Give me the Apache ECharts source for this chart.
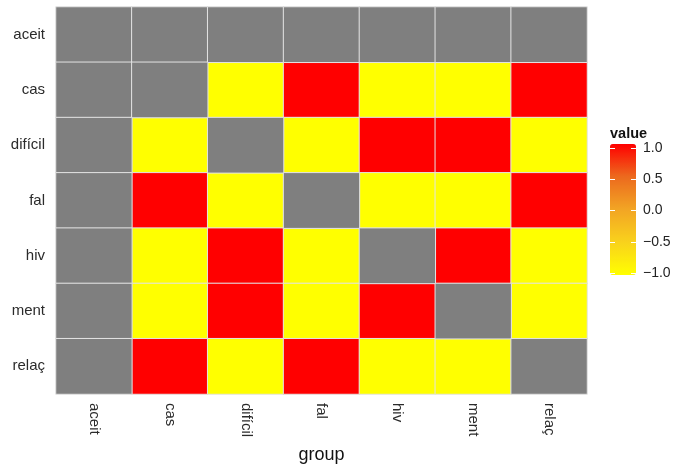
<!DOCTYPE html>
<html>
<head>
<meta charset="utf-8">
<script src="https://cdn.jsdelivr.net/npm/echarts@6/dist/echarts.min.js"></script>
<style>html,body{margin:0;padding:0;background:#fff;}#c{width:688px;height:465px;}</style>
</head>
<body>
<div id="c"></div>
<script>
// categories
const groups = ['aceit', 'cas', 'difícil', 'fal', 'hiv', 'ment', 'relaç'];
// values by row (top to bottom), columns left to right; null = NA (grey)
const rowAceit  = [null, null, null, null, null, null, null];
const rowCas    = [null, null, -1, 1, -1, -1, 1];
const rowDificil= [null, -1, null, -1, 1, 1, -1];
const rowFal    = [null, 1, -1, null, -1, -1, 1];
const rowHiv    = [null, -1, 1, -1, null, 1, -1];
const rowMent   = [null, -1, 1, -1, 1, null, -1];
const rowRelac  = [null, 1, -1, 1, -1, -1, null];
const rows = [rowAceit, rowCas, rowDificil, rowFal, rowHiv, rowMent, rowRelac];
// legend ticks
const legendTicks = [-1, -0.5, 0, 0.5, 1];

const valData = [], naData = [];
rows.forEach((r, yi) => r.forEach((v, xi) => {
  if (v === null) naData.push([xi, yi, 0]); else valData.push([xi, yi, v]);
}));

const chart = echarts.init(document.getElementById('c'));
const font = 'Liberation Sans, Arial, Helvetica, sans-serif';
const fmt = v => (v < 0 ? '\u2212' : '') + Math.abs(v).toFixed(1);
const tickAxis = (extra) => Object.assign({
  type: 'value', gridIndex: 1, min: legendTicks[0], max: legendTicks[legendTicks.length - 1],
  interval: 0.5, z: 10,
  axisLine: { show: false }, splitLine: { show: false },
  axisTick: { show: true, inside: true, length: 5, lineStyle: { color: '#ffffff', width: 1 } },
  axisLabel: { show: false }
}, extra);
chart.setOption({
  animation: false,
  textStyle: { fontFamily: font },
  grid: [
    { left: 56, top: 7, width: 531, height: 387, outerBoundsMode: 'none', containLabel: false },
    { left: 610, top: 148, width: 26, height: 125, outerBoundsMode: 'none', containLabel: false }
  ],
  xAxis: [
    { type: 'category', data: groups, gridIndex: 0,
      axisLine: { show: false }, axisTick: { show: false }, splitLine: { show: false },
      axisLabel: { rotate: -90, margin: 9, fontSize: 15, color: '#2b2b2b', fontFamily: font },
      name: 'group', nameLocation: 'middle', nameGap: 52,
      nameTextStyle: { fontSize: 18, color: '#111', fontFamily: font } },
    { type: 'value', gridIndex: 1, show: false, min: 0, max: 1 }
  ],
  yAxis: [
    { type: 'category', data: groups, gridIndex: 0, inverse: true,
      axisLine: { show: false }, axisTick: { show: false }, splitLine: { show: false },
      axisLabel: { margin: 11, fontSize: 15, color: '#2b2b2b', fontFamily: font } },
    tickAxis({ position: 'right', axisTick: { show: false },
      axisLabel: { show: true, margin: 7, fontSize: 14, color: '#222', formatter: fmt, fontFamily: font } }),
    tickAxis({ position: 'left',
      name: 'value', nameLocation: 'end', nameGap: 14,
      nameTextStyle: { fontSize: 14.5, fontWeight: 'bold', color: '#111', align: 'left', verticalAlign: 'middle', fontFamily: font } }),
    tickAxis({ position: 'left', offset: -26,
      axisTick: { show: true, inside: false, length: 5, lineStyle: { color: '#ffffff', width: 1 } } })
  ],
  visualMap: {
    type: 'continuous', seriesIndex: 0, min: -1, max: 1, calculable: false,
    left: 610, top: 144, itemWidth: 26, itemHeight: 131, padding: 0,
    text: null, showLabel: false,
    inRange: { color: ['#FFFF00', '#F9D21C', '#F2A524', '#EC6A1E', '#FF0000'] }
  },
  series: [
    { type: 'heatmap', xAxisIndex: 0, yAxisIndex: 0, data: valData,
      itemStyle: { borderColor: '#e3e3e3', borderWidth: 1 }, emphasis: { disabled: true } },
    { type: 'heatmap', xAxisIndex: 0, yAxisIndex: 0, data: naData,
      itemStyle: { color: '#7F7F7F', borderColor: '#e3e3e3', borderWidth: 1 }, emphasis: { disabled: true } }
  ]
});
</script>
</body>
</html>
